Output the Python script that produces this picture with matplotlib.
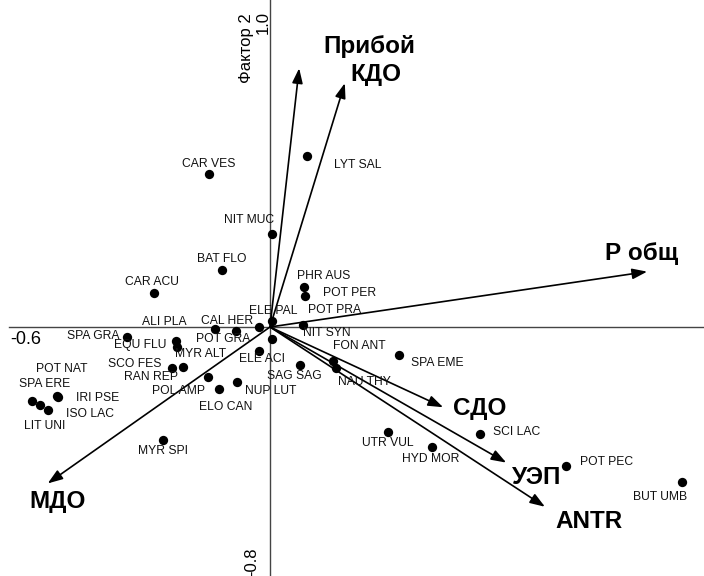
import matplotlib
matplotlib.use("Agg")
import matplotlib.pyplot as plt

plt.rcParams['font.family'] = ['Liberation Sans', 'DejaVu Sans']

# ---------------- data ----------------
species = ["LYT SAL", "CAR VES", "NIT MUC", "BAT FLO", "CAR ACU", "PHR AUS", "POT PER",
           "ELE PAL", "POT PRA", "NIT SYN", "ALI PLA", "CAL HER", "POT GRA", "ELE ACI",
           "SPA GRA", "EQU FLU", "MYR ALT", "SCO FES", "RAN REP", "POL AMP", "ELO CAN",
           "NUP LUT", "SAG SAG", "FON ANT", "NAU THY", "SPA EME", "POT NAT", "SPA ERE",
           "IRI PSE", "ISO LAC", "LIT UNI", "MYR SPI", "UTR VUL", "HYD MOR", "SCI LAC",
           "POT PEC", "BUT UMB"]
sp_x = [0.086, -0.140, 0.004, -0.111, -0.267, 0.078, 0.080,
        0.004, 0.075, 0.004, -0.126, -0.078, -0.025, -0.025,
        -0.328, -0.217, -0.213, -0.225, -0.199, -0.142, -0.117,
        -0.077, 0.069, 0.144, 0.152, 0.297, -0.490, -0.548,
        -0.487, -0.510, -0.529, -0.245, 0.272, 0.372, 0.483,
        0.680, 0.948]
sp_y = [0.551, 0.492, 0.298, 0.183, 0.109, 0.130, 0.100,
        0.020, 0.007, -0.039, -0.006, -0.013, 0.001, -0.077,
        -0.033, -0.044, -0.063, -0.131, -0.129, -0.162, -0.198,
        -0.177, -0.122, -0.109, -0.133, -0.090, -0.222, -0.237,
        -0.226, -0.267, -0.251, -0.363, -0.337, -0.387, -0.344,
        -0.446, -0.499]

env_names = ["Прибой", "КДО", "Р общ", "СДО", "УЭП", "ANTR", "МДО"]
env_x = [0.067, 0.172, 0.867, 0.398, 0.543, 0.632, -0.511]
env_y = [0.832, 0.784, 0.178, -0.258, -0.436, -0.578, -0.503]

x_tick_labels = ["-0.6", "1.0"]
y_tick_labels = ["1.0", "-0.8"]
x_title = "Фактор 1"
y_title = "Фактор 2"

# ---------------- layout (label offsets in pixels: right, down) ----------------
sp_offsets = [(50, 9), (0, -10), (-23, -14), (0, -11), (-2, -11), (20, -11), (45, -3),
              (2, -10), (32, -15), (55, -6), (-51, -7), (-9, -10), (-36, 12), (3, 8),
              (-34, -1), (-35, 4), (23, 7), (-37, -4), (-32, 10), (-30, 14), (7, 18),
              (34, 9), (-6, 11), (27, -15), (28, 14), (38, 8), (5, -27), (13, -17),
              (39, 1), (42, 4), (5, 21), (0, 11), (-1, 11), (-1, 12), (37, -2),
              (41, -4), (-22, 15)]
env_offsets = [(70, -22), (31, -9), (-6, -18), (37, 1), (30, 15), (44, 15), (10, 18)]

W, H = 704, 576
fig = plt.figure(figsize=(W / 100, H / 100), dpi=100)
ax = fig.add_axes([0, 0, 1, 1])
ax.set_xlim(-270 / 435, 434 / 435)
ax.set_ylim(-249 / 311, 327 / 311)
ax.axis("off")

# axes lines
ax.plot([-0.6, 1.0], [0, 0], color="#444444", lw=1.0, zorder=1)
ax.plot([0, 0], [-0.8, 1.06], color="#444444", lw=1.0, zorder=1)

# species points
ax.scatter(sp_x, sp_y, s=45, color="black", zorder=3, linewidths=0)
for name, x, y, (dx, dy) in zip(species, sp_x, sp_y, sp_offsets):
    ax.annotate(name, (x, y), xytext=(dx, -dy), textcoords="offset pixels",
                ha="center", va="center", fontsize=8.7, color="#111111")

# environmental arrows
for name, x, y, (dx, dy) in zip(env_names, env_x, env_y, env_offsets):
    ax.annotate("", xy=(x, y), xytext=(0, 0),
                arrowprops=dict(arrowstyle="-|>,head_length=0.9,head_width=0.32",
                                color="black", lw=1.2, shrinkA=0, shrinkB=0),
                zorder=2)
    ax.annotate(name, (x, y), xytext=(dx, -dy), textcoords="offset pixels",
                ha="center", va="center", fontsize=17.5, fontweight="bold", color="black")

# tick labels and titles
ax.annotate(x_tick_labels[0], (-0.6, 0), xytext=(1, -12), textcoords="offset pixels",
            ha="left", va="center", fontsize=13)
ax.annotate(x_tick_labels[1], (1.0, 0), xytext=(-4, -16), textcoords="offset pixels",
            ha="right", va="center", fontsize=13)
ax.annotate(x_title, (1.0, 0), xytext=(-11, 12), textcoords="offset pixels",
            ha="right", va="center", fontsize=12.5)
ax.annotate(y_tick_labels[0], (0, 1.0), xytext=(-7, -6), textcoords="offset pixels",
            ha="center", va="center", fontsize=12, rotation=90)
ax.annotate(y_title, (0, 1.0), xytext=(-24, -32), textcoords="offset pixels",
            ha="center", va="center", fontsize=12, rotation=90)
ax.annotate(y_tick_labels[1], (0, -0.8), xytext=(-18, 14), textcoords="offset pixels",
            ha="center", va="center", fontsize=12, rotation=90)

fig.savefig("out.png", dpi=100)
